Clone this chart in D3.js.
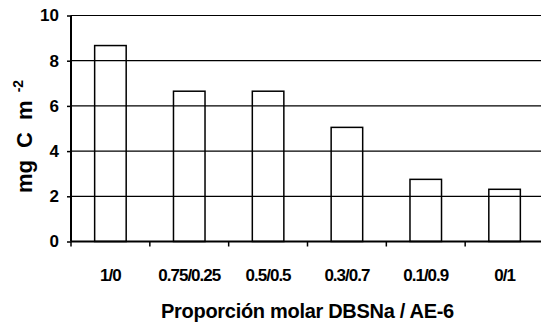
<!DOCTYPE html>
<html>
<head>
<meta charset="utf-8">
<script src="https://cdn.jsdelivr.net/npm/d3@7"></script>
<style>
  body { margin: 0; background: #fff; }
  text { font-family: "Liberation Sans", Arial, sans-serif; font-weight: bold; fill: #000; }
</style>
</head>
<body>
<div id="chart"></div>
<script>
const categories = ["1/0", "0.75/0.25", "0.5/0.5", "0.3/0.7", "0.1/0.9", "0/1"];
const values = [8.67, 6.65, 6.65, 5.05, 2.75, 2.31];
const yTicks = [0, 2, 4, 6, 8, 10];

let width = 541,
height = 325;

// plot box (right edge runs past the window, as in the original)
const plotLeft = 71, plotRight = 544, plotTop = 15.5, plotBottom = 241.5;

let svg = d3.select("#chart")
  .append("svg")
  .attr("width", width)
  .attr("height", height);

let x = d3.scaleBand()
  .domain(categories)
  .range([plotLeft, plotRight])
  .paddingInner(0.6)
  .paddingOuter(0.3);

let y = d3.scaleLinear()
  .domain([0, 10])
  .range([plotBottom, plotTop]);

// gridlines
svg.append("g")
  .selectAll("line")
  .data(yTicks.filter(d => d > 0))
  .join("line")
  .attr("x1", plotLeft).attr("x2", plotRight)
  .attr("y1", d => y(d)).attr("y2", d => y(d))
  .attr("stroke", "#000")
  .attr("stroke-width", 1.2);

// bars
svg.append("g")
  .selectAll("rect")
  .data(values)
  .join("rect")
  .attr("x", (d, i) => x(categories[i]))
  .attr("y", d => y(d))
  .attr("width", x.bandwidth())
  .attr("height", d => y(0) - y(d))
  .attr("fill", "none")
  .attr("stroke", "#000")
  .attr("stroke-width", 1.5);

// y axis
let yAxis = svg.append("g")
  .attr("transform", `translate(${plotLeft},0)`)
  .call(d3.axisLeft(y).tickValues(yTicks).tickSize(4).tickPadding(8));
yAxis.select(".domain").attr("stroke-width", 2).attr("d", `M0,${plotTop}V${plotBottom}`);
yAxis.selectAll(".tick line").attr("stroke-width", 1.5);
yAxis.selectAll(".tick text")
  .style("font-size", "17px")
  .style("font-family", "'Liberation Sans', Arial, sans-serif")
  .style("font-weight", "bold")
  .attr("fill", "#000");

// x axis: ticks on the category boundaries
let step = x.step();
let bounds = categories.map(c => x(c) - step * 0.3).concat([plotRight]);
let xg = svg.append("g");
xg.append("line")
  .attr("x1", plotLeft).attr("x2", plotRight)
  .attr("y1", plotBottom).attr("y2", plotBottom)
  .attr("stroke", "#000").attr("stroke-width", 2);
xg.selectAll("line.tk")
  .data(bounds)
  .join("line")
  .attr("class", "tk")
  .attr("x1", d => d).attr("x2", d => d)
  .attr("y1", plotBottom).attr("y2", plotBottom + 5)
  .attr("stroke", "#000").attr("stroke-width", 1.5);
xg.selectAll("text")
  .data(categories)
  .join("text")
  .attr("x", d => x(d) + x.bandwidth() / 2)
  .attr("y", 281)
  .attr("text-anchor", "middle")
  .style("font-size", "17px")
  .style("letter-spacing", "-1px")
  .text(d => d);

// axis titles
svg.append("text")
  .attr("x", (plotLeft + plotRight) / 2)
  .attr("y", 317.5)
  .attr("text-anchor", "middle")
  .style("font-size", "20px")
  .style("letter-spacing", "-0.3px")
  .text("Proporción molar DBSNa / AE-6");

let yl = svg.append("text")
  .attr("transform", "translate(32,193) rotate(-90)")
  .style("font-size", "22px")
  .style("word-spacing", "6px");
yl.append("tspan").text("mg C m");
yl.append("tspan")
  .attr("dx", 8)
  .attr("dy", -9)
  .style("font-size", "14px")
  .text("-2");
</script>
</body>
</html>
